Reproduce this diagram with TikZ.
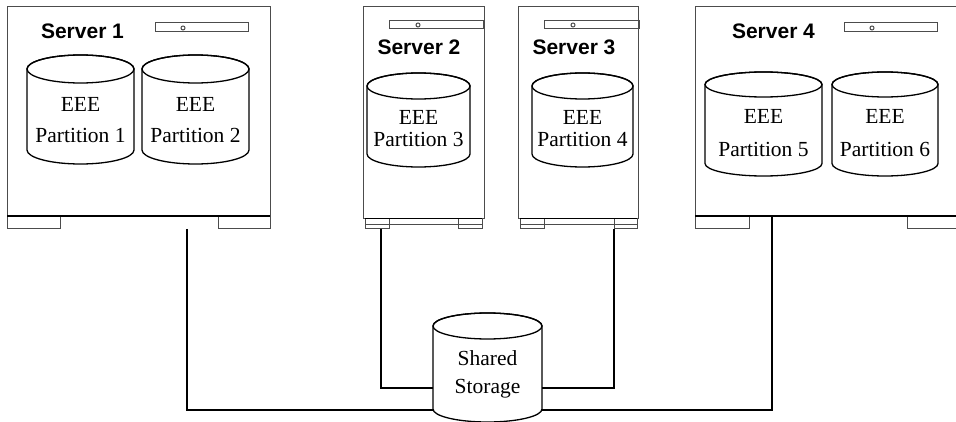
\documentclass[tikz,border=0pt]{standalone}
\usepackage{fontspec}
\setmainfont{Liberation Serif}
\newfontfamily\labelfont{Liberation Sans}
\tikzset{
  boxline/.style={draw=black!70, line width=1pt},
  baseline/.style={draw=black, line width=1.5pt},
  cylline/.style={draw=black, line width=1.3pt},
  wire/.style={draw=black, line width=2pt},
  disktext/.style={font=\fontsize{21.5}{25}\selectfont, anchor=base, inner sep=0pt},
  srvlabel/.style={font=\labelfont\bfseries\fontsize{21}{24}\selectfont, anchor=base, inner sep=0pt},
}
\newcommand\drumshape[5]{%
  \pgfmathsetmacro\drx{(#2-#1)/2}%
  \pgfmathsetmacro\dcx{(#1+#2)/2}%
  \draw[cylline,fill=white] (#1,#3) -- (#1,#4)
     arc[start angle=180,end angle=0,x radius=\drx,y radius=#5] -- (#2,#3)
     arc[start angle=0,end angle=-180,x radius=\drx,y radius=#5] -- cycle;
  \draw[cylline] (\dcx,#3) ellipse[x radius=\drx,y radius=#5];
}
\begin{document}
\begin{tikzpicture}[x=1pt,y=-1pt]
\path[use as bounding box] (0,0) rectangle (956,422);
\clip (0,0) rectangle (956,422);

% ---------- Server 1 ----------
\draw[boxline,fill=white] (7,7) rectangle (270,216);
\draw[boxline] (7,216) rectangle (60,229);
\draw[boxline] (218,216) rectangle (270,229);
\draw[baseline] (7,216) -- (270,216);
\draw[boxline] (155,23) rectangle (248,32);
\draw[boxline] (183,28) circle[radius=2];
\node[srvlabel] (srv1) at (82.5,39) {Server 1};
\drumshape{27}{134}{69}{150}{14}
\node[disktext] (d1a) at (80.5,112) {EEE};
\node[disktext] (d1b) at (80.5,143) {Partition 1};
\drumshape{142}{249}{69}{150}{14}
\node[disktext] (d2a) at (195.5,112) {EEE};
\node[disktext] (d2b) at (195.5,143) {Partition 2};
\coordinate (p1) at (187,229);

% ---------- Server 2 ----------
\draw[boxline,fill=white] (363,7) rectangle (484,219);
\draw[boxline] (365,219) rectangle (482,225);
\draw[boxline] (365,219) rectangle (389,229);
\draw[boxline] (458,219) rectangle (482,229);
\draw[black,line width=1pt] (365,219) -- (482,219);
\draw[boxline] (389,21) rectangle (483,29);
\draw[boxline] (418,25) circle[radius=2];
\node[srvlabel] (srv2) at (419,55) {Server 2};
\drumshape{367}{470}{86}{154}{13}
\node[disktext] (d3a) at (418.5,125) {EEE};
\node[disktext] (d3b) at (418.5,147) {Partition 3};
\coordinate (p2) at (381,229);

% ---------- Server 3 ----------
\draw[boxline,fill=white] (518,7) rectangle (638,219);
\draw[boxline] (520,219) rectangle (637,225);
\draw[boxline] (520,219) rectangle (544,229);
\draw[boxline] (614,219) rectangle (637,229);
\draw[black,line width=1pt] (520,219) -- (637,219);
\draw[boxline] (544,21) rectangle (639,29);
\draw[boxline] (573,25) circle[radius=2];
\node[srvlabel] (srv3) at (574,55) {Server 3};
\drumshape{532}{633}{86}{154}{13}
\node[disktext] (d4a) at (582.5,125) {EEE};
\node[disktext] (d4b) at (582.5,147) {Partition 4};
\coordinate (p3) at (614,229);

% ---------- Server 4 ----------
\draw[boxline,fill=white] (695,7) rectangle (962,216);
\draw[boxline] (695,216) rectangle (749,229);
\draw[boxline] (907,216) rectangle (962,229);
\draw[baseline] (695,216) -- (962,216);
\draw[boxline] (844,23) rectangle (937,32);
\draw[boxline] (872,28) circle[radius=2];
\node[srvlabel] (srv4) at (773.5,39) {Server 4};
\drumshape{705}{822}{84.5}{163.5}{12.5}
\node[disktext] (d5a) at (763.5,124) {EEE};
\node[disktext] (d5b) at (763.5,157) {Partition 5};
\drumshape{832}{938}{84.5}{163.5}{12.5}
\node[disktext] (d6a) at (885,124) {EEE};
\node[disktext] (d6b) at (885,157) {Partition 6};
\coordinate (p4) at (772,216);

% ---------- Shared storage ----------
\drumshape{433}{542}{326}{409}{13}
\node[disktext] (sta) at (487.5,365) {Shared};
\node[disktext] (stb) at (487.5,393) {Storage};
\coordinate (stL1) at (433,388);
\coordinate (stR1) at (542,388);
\coordinate (stL2) at (433,410);
\coordinate (stR2) at (542,410);

% ---------- Connectors ----------
\draw[wire] (p1) |- (stL2);
\draw[wire] (p4) |- (stR2);
\draw[wire] (p2) |- (stL1);
\draw[wire] (p3) |- (stR1);
\end{tikzpicture}
\end{document}
